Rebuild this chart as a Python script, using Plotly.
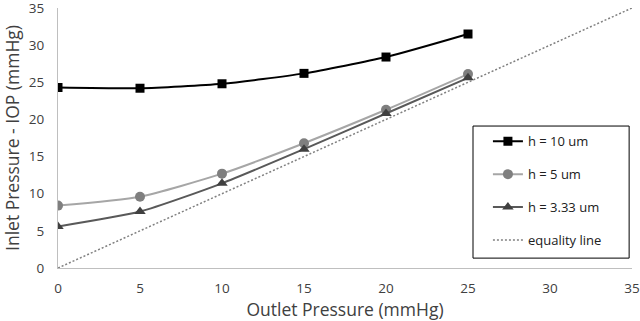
import plotly.graph_objects as go

x_vals = [0, 5, 10, 15, 20, 25]
h10 = [24.3, 24.2, 24.8, 26.2, 28.4, 31.5]
h5 = [8.4, 9.6, 12.7, 16.8, 21.3, 26.1]
h333 = [5.6, 7.6, 11.4, 16.0, 20.8, 25.6]
eq_x = [0, 35]
eq_y = [0, 35]
ticks = [0, 5, 10, 15, 20, 25, 30, 35]

font = "Open Sans, Liberation Sans, sans-serif"
smooth = 0.6

fig = go.Figure()
fig.add_trace(go.Scatter(x=x_vals, y=h10, name="h = 10 um", mode="lines+markers", legendgroup="a",
                         line=dict(color="#000000", width=2, shape="spline", smoothing=smooth),
                         marker=dict(symbol="square", size=9, color="#000000")))
fig.add_trace(go.Scatter(x=x_vals, y=h5, name="h = 5 um", mode="lines+markers", legendgroup="b",
                         line=dict(color="#a6a6a6", width=2, shape="spline", smoothing=smooth),
                         marker=dict(symbol="circle", size=10, color="#7f7f7f")))
fig.add_trace(go.Scatter(x=x_vals, y=h333, name="h = 3.33 um", mode="lines+markers", legendgroup="c",
                         line=dict(color="#595959", width=2, shape="spline", smoothing=smooth),
                         marker=dict(symbol="triangle-up", size=10, color="#404040")))
fig.add_trace(go.Scatter(x=eq_x, y=eq_y, name="equality line", mode="lines", legendgroup="d",
                         line=dict(color="#808080", width=1.5, dash="2px,2px")))

# legend frame
fig.add_shape(type="rect", xref="paper", yref="paper", x0=0.723, x1=0.995, y0=0.038, y1=0.546,
              line=dict(color="#000000", width=1), fillcolor="rgba(0,0,0,0)", layer="above")

fig.update_layout(
    width=640, height=321,
    margin=dict(l=58, r=8, t=8, b=53),
    paper_bgcolor="white", plot_bgcolor="white",
    font=dict(family=font, size=13, color="#404040"),
    showlegend=True,
    legend=dict(x=0.749, y=0.545, xanchor="left", yanchor="top",
                borderwidth=0, bgcolor="rgba(0,0,0,0)",
                font=dict(size=13, color="#202020"), tracegroupgap=13,
                itemwidth=30),
    xaxis=dict(range=[0, 35], tickvals=ticks, showgrid=False, zeroline=False,
               showline=True, linecolor="#bfbfbf", linewidth=1, ticks="",
               automargin=False, ticklabeloverflow="allow", ticklabelstandoff=8,
               tickfont=dict(size=13.5, color="#404040"),
               title=dict(text="Outlet Pressure (mmHg)", font=dict(size=17.5, color="#404040"), standoff=1)),
    yaxis=dict(range=[0, 35], tickvals=ticks, showgrid=False, zeroline=False,
               showline=True, linecolor="#bfbfbf", linewidth=1, ticks="",
               automargin=False, ticklabeloverflow="allow", ticklabelstandoff=10,
               tickfont=dict(size=13.5, color="#404040"),
               title=dict(text="Inlet Pressure - IOP (mmHg)", font=dict(size=17.5, color="#404040"), standoff=6)),
)

fig.write_html("out.html", config={"displayModeBar": False},
               post_script="document.body.style.margin='0';")
